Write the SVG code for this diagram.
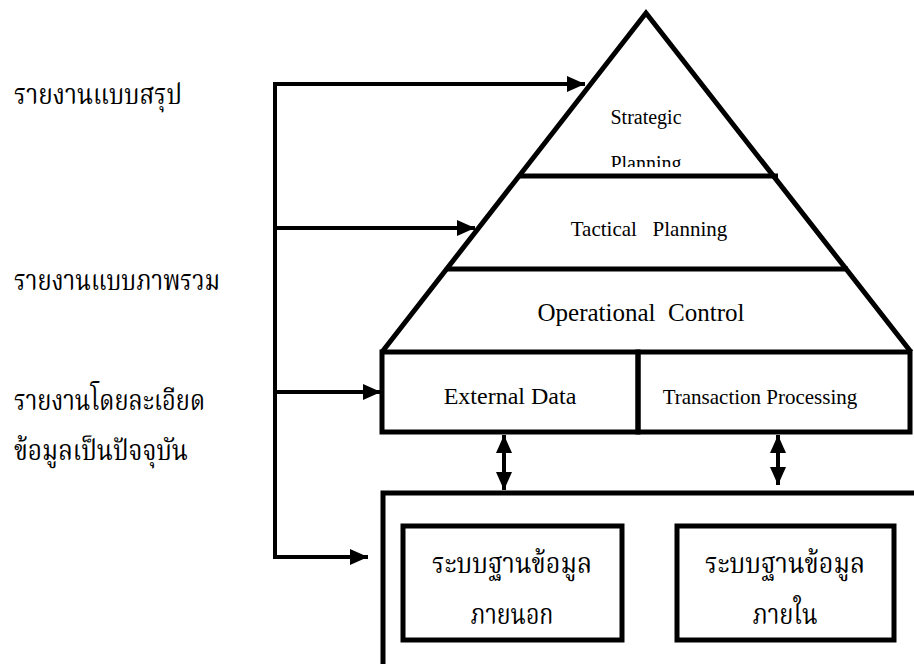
<svg xmlns="http://www.w3.org/2000/svg" width="914" height="664" viewBox="0 0 914 664">
<style>
.ln{fill:none;stroke:#000;stroke-width:5}
.ar{fill:none;stroke:#000;stroke-width:4}
.en{font-family:'Liberation Serif','DejaVu Serif',serif;fill:#000;text-anchor:middle}
.th{font-family:'Liberation Serif','Noto Serif Thai','Noto Sans Thai','DejaVu Serif',serif;fill:#000}
</style>
<defs>
<marker id="ah" markerUnits="userSpaceOnUse" markerWidth="20" markerHeight="16" refX="18" refY="8" orient="auto-start-reverse">
<polygon points="0,0 18,8 0,16" fill="#000"/>
</marker>
<clipPath id="clipS"><rect x="0" y="0" width="914" height="167"/></clipPath>
</defs>
<rect width="914" height="664" fill="#fff"/>
<g id="labels">
<text class="th" x="14" y="104" font-size="28" textLength="168" lengthAdjust="spacingAndGlyphs">รายงานแบบสรุป</text>
<text class="th" x="14" y="290" font-size="28" textLength="206" lengthAdjust="spacingAndGlyphs">รายงานแบบภาพรวม</text>
<text class="th" x="14" y="410" font-size="28" textLength="191" lengthAdjust="spacingAndGlyphs">รายงานโดยละเอียด</text>
<text class="th" x="14" y="460" font-size="28" textLength="174" lengthAdjust="spacingAndGlyphs">ข้อมูลเป็นปัจจุบัน</text>
</g>
<g id="pyramid">
<polyline class="ln" points="382,352 646,13 911,352"/>
</g>
<g id="strategic">
<line class="ln" x1="519" y1="176" x2="778" y2="176"/>
<text class="en" x="646" y="124" font-size="20">Strategic</text>
<text class="en" x="646" y="170" font-size="20" clip-path="url(#clipS)">Planning</text>
</g>
<g id="tactical">
<line class="ln" x1="446" y1="269" x2="848" y2="269"/>
<text class="en" x="649" y="236" font-size="21" xml:space="preserve">Tactical   Planning</text>
</g>
<g id="operational">
<text class="en" x="641" y="321" font-size="25" xml:space="preserve">Operational  Control</text>
</g>
<g id="external">
<rect class="ln" x="382" y="352" width="256" height="80"/>
<text class="en" x="510" y="404" font-size="24">External Data</text>
</g>
<g id="transaction">
<rect class="ln" x="638" y="352" width="272" height="80"/>
<text class="en" x="760" y="404" font-size="21">Transaction Processing</text>
</g>
<g id="database">
<rect class="ln" x="383" y="493" width="560" height="200"/>
</g>
<g id="db-external">
<rect class="ln" x="403" y="526" width="219" height="114"/>
<text class="th" x="512" y="573" font-size="28" text-anchor="middle" textLength="160" lengthAdjust="spacingAndGlyphs">ระบบฐานข้อมูล</text>
<text class="th" x="512" y="624" font-size="28" text-anchor="middle" textLength="83" lengthAdjust="spacingAndGlyphs">ภายนอก</text>
</g>
<g id="db-internal">
<rect class="ln" x="677" y="526" width="217" height="114"/>
<text class="th" x="785" y="573" font-size="28" text-anchor="middle" textLength="160" lengthAdjust="spacingAndGlyphs">ระบบฐานข้อมูล</text>
<text class="th" x="785" y="624" font-size="28" text-anchor="middle" textLength="65" lengthAdjust="spacingAndGlyphs">ภายใน</text>
</g>
<g id="connectors">
<polyline class="ar" points="275,84 275,558"/>
<line class="ar" x1="273" y1="84" x2="585" y2="84" marker-end="url(#ah)"/>
<line class="ar" x1="275" y1="228" x2="475" y2="228" marker-end="url(#ah)"/>
<line class="ar" x1="275" y1="392" x2="381" y2="392" marker-end="url(#ah)"/>
<line class="ar" x1="273" y1="557" x2="368" y2="557" marker-end="url(#ah)"/>
<line class="ar" x1="504" y1="435" x2="504" y2="490" marker-start="url(#ah)" marker-end="url(#ah)"/>
<line class="ar" x1="778" y1="435" x2="778" y2="485" marker-start="url(#ah)" marker-end="url(#ah)"/>
</g>
</svg>
